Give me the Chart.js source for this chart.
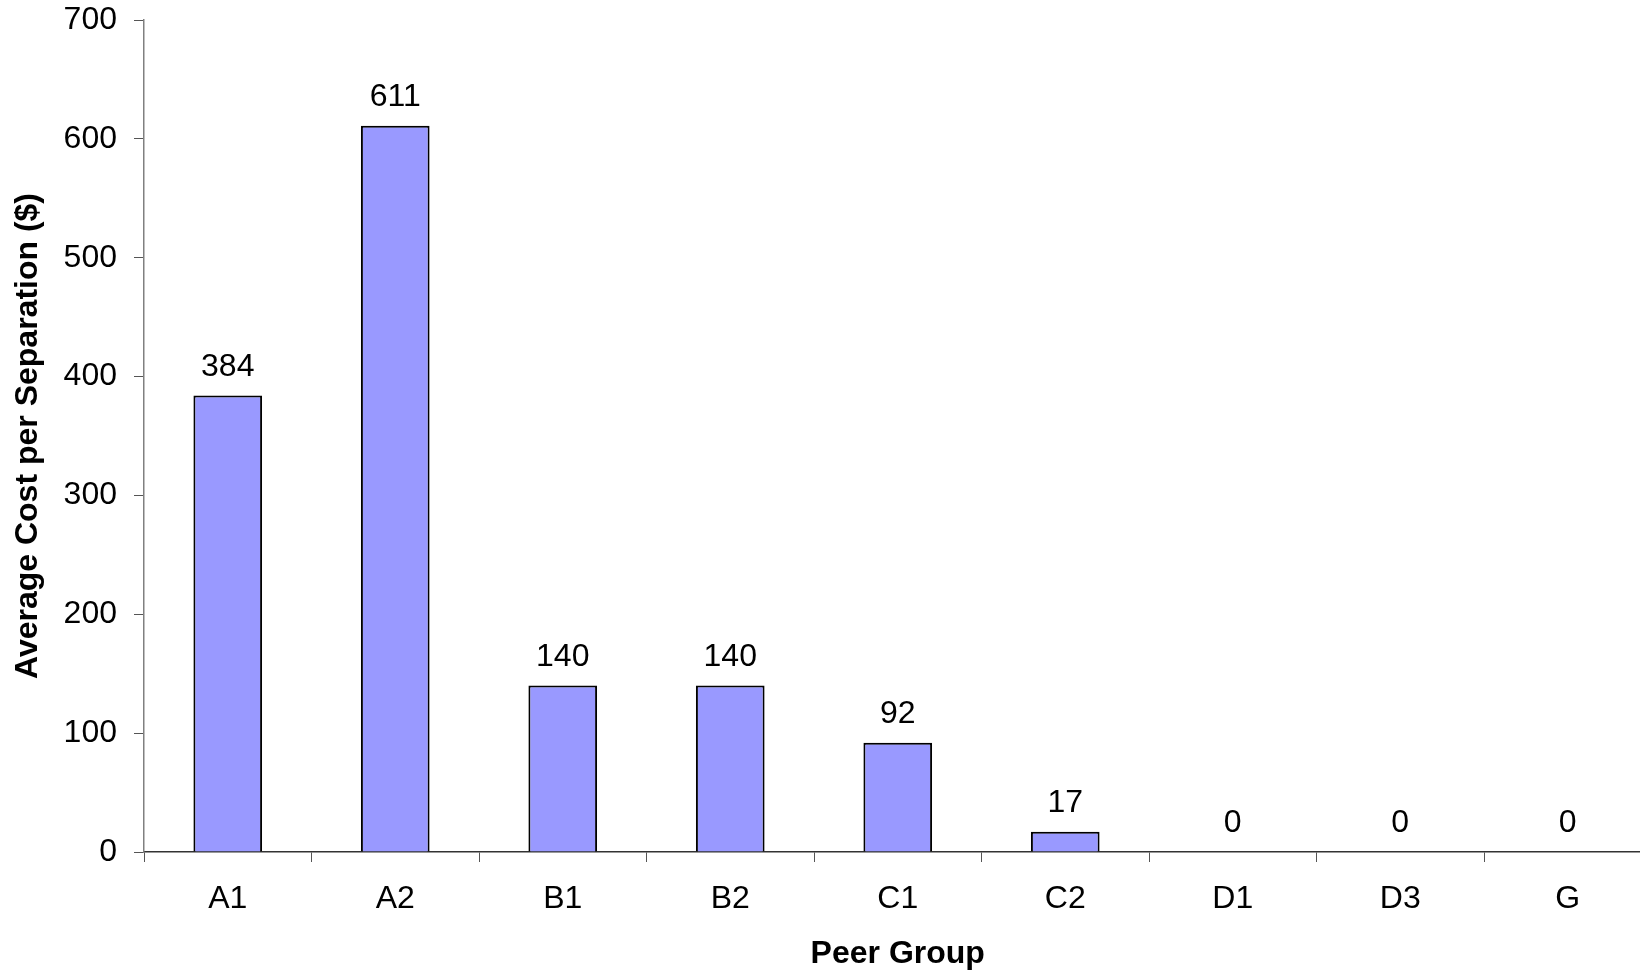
<!DOCTYPE html>
<html>
<head>
<meta charset="utf-8">
<script src="https://cdn.jsdelivr.net/npm/chart.js@4"></script>
<style>
  html, body { margin: 0; padding: 0; background: #fff; overflow: hidden; }
  canvas { display: block; }
</style>
</head>
<body>
<canvas id="chart" width="1660" height="973"></canvas>
<script>
const peerGroups = ['A1', 'A2', 'B1', 'B2', 'C1', 'C2', 'D1', 'D3', 'G'];
const avgCost = [384, 611, 140, 140, 92, 17, 0, 0, 0];
const yTicks = [0, 100, 200, 300, 400, 500, 600, 700];

const FONT = "'Liberation Sans', Arial, sans-serif";

// value labels above each bar
const barLabels = {
  id: 'barLabels',
  afterDatasetsDraw(chart) {
    const ctx = chart.ctx;
    const meta = chart.getDatasetMeta(0);
    ctx.save();
    ctx.font = '32px ' + FONT;
    ctx.fillStyle = '#000';
    ctx.textAlign = 'center';
    ctx.textBaseline = 'alphabetic';
    meta.data.forEach((bar, i) => {
      ctx.fillText(String(avgCost[i]), bar.x, bar.y - 20);
    });
    ctx.restore();
  },
};

new Chart(document.getElementById('chart'), {
  type: 'bar',
  data: {
    labels: peerGroups,
    datasets: [{
      data: avgCost,
      backgroundColor: '#9999FF',
      borderColor: '#000',
      borderWidth: 2,
      barPercentage: 0.41,
      categoryPercentage: 1,
    }],
  },
  options: {
    responsive: false,
    animation: false,
    devicePixelRatio: 1,
    layout: { padding: { top: 20, right: 8.5, left: 0, bottom: 0 } },
    plugins: {
      legend: { display: false },
      tooltip: { enabled: false },
    },
    scales: {
      x: {
        offset: true,
        grid: {
          offset: true,
          drawOnChartArea: false,
          drawTicks: true,
          tickLength: 10,
          color: '#555',
        },
        border: { color: '#333', width: 1.5 },
        ticks: {
          color: '#000',
          font: { family: FONT, size: 32 },
          padding: 18,
          maxRotation: 0,
        },
        title: {
          display: true,
          text: 'Peer Group',
          color: '#000',
          font: { family: FONT, size: 32, weight: 'bold' },
          padding: { top: 0, bottom: 0 },
        },
        afterFit(scale) {
          scale.height = 121;
          scale.paddingLeft = 0;
          scale.paddingRight = 0;
        },
      },
      y: {
        min: 0,
        max: 700,
        grid: {
          drawOnChartArea: false,
          drawTicks: true,
          tickLength: 10,
          color: '#555',
        },
        border: { color: '#808080', width: 1.5 },
        ticks: {
          stepSize: 100,
          color: '#000',
          font: { family: FONT, size: 32 },
          padding: 17,
          callback: (v) => (yTicks.includes(v) ? String(v) : ''),
        },
        title: {
          display: true,
          text: 'Average Cost per Separation ($)',
          color: '#000',
          font: { family: FONT, size: 32, weight: 'bold' },
          padding: { top: 9, bottom: 0 },
        },
        afterFit(scale) {
          scale.width = 144;
          scale.paddingTop = 0;
          scale.paddingBottom = 0;
        },
      },
    },
  },
  plugins: [barLabels],
});
</script>
</body>
</html>
